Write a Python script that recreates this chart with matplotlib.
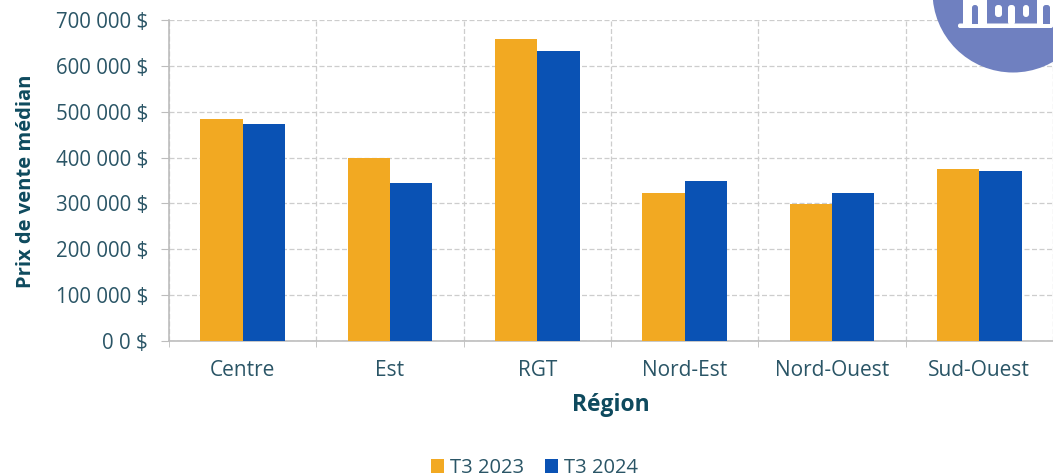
import matplotlib
matplotlib.use('Agg')
import matplotlib.pyplot as plt
from matplotlib.patches import Circle, Rectangle, FancyBboxPatch
import numpy as np

regions = ['Centre', 'Est', 'RGT', 'Nord-Est', 'Nord-Ouest', 'Sud-Ouest']
t3_2023 = [485000, 400000, 659000, 322000, 299000, 375000]
t3_2024 = [474000, 345000, 632000, 350000, 322000, 371000]
series_names = ['T3 2023', 'T3 2024']
y_ticks = [0, 100000, 200000, 300000, 400000, 500000, 600000, 700000]
y_labels = ['0 0 $', '100 000 $', '200 000 $', '300 000 $', '400 000 $', '500 000 $', '600 000 $', '700 000 $']

plt.rcParams['font.family'] = ['Open Sans', 'DejaVu Sans']
W, H = 1053, 476
fig = plt.figure(figsize=(W/100, H/100), dpi=100, facecolor='white')
ax = fig.add_axes([169/W, 1-341/H, (1053-169)/W, (341-20)/H])

x = np.arange(len(regions))
bw = 42.4/147.3
orange, blue = '#F2A922', '#0A52B4'
ax.bar(x-bw/2, t3_2023, bw, color=orange, zorder=3, label=series_names[0])
ax.bar(x+bw/2, t3_2024, bw, color=blue, zorder=3, label=series_names[1])
ax.set_xlim(-0.5, 5.5)
ax.set_ylim(0, 700000)
ax.set_yticks(y_ticks)
ax.set_yticklabels(y_labels)
ax.set_xticks(x)
ax.set_xticklabels(regions)
ax.set_xticks(np.arange(-0.5, 6), minor=True)

grid = '#CDCDCD'
ax.grid(True, axis='y', color=grid, lw=0.9, ls=(0, (4, 2)), zorder=0)
ax.grid(True, axis='x', which='minor', color=grid, lw=0.9, ls=(0, (4, 2)), zorder=0)
for s in ['top', 'right']:
    ax.spines[s].set_visible(False)
for s in ['left', 'bottom']:
    ax.spines[s].set_color('#BDBDBD')
    ax.spines[s].set_linewidth(1.2)
ax.tick_params(axis='y', length=6, color='#BDBDBD', labelsize=14.8, labelcolor='#2A5566', pad=9)
ax.tick_params(axis='x', which='major', length=0, labelsize=15, labelcolor='#2A5566', pad=14)
ax.tick_params(axis='x', which='minor', length=4, color='#BDBDBD')

fig.text(611/W, 1-405/H, 'Région', ha='center', va='center', fontsize=16.5, fontweight='bold', color='#0E4A5E')
fig.text(26/W, 1-181/H, 'Prix de vente médian', rotation=90, ha='center', va='center', fontsize=14.5, fontweight='bold', color='#0E4A5E')

h, l = ax.get_legend_handles_labels()
fig.legend(h, l, loc='center', bbox_to_anchor=(534.5/W, 1-468/H), ncol=2, frameon=False, fontsize=14.5,
           labelcolor='#2A5566', handlelength=0.64, handleheight=0.64, handletextpad=0.3, columnspacing=1.0,
           borderpad=0, borderaxespad=0)

# Decorative icon in pixel coordinates
circ = '#6F80C0'
ov = fig.add_axes([0, 0, 1, 1], zorder=10)
ov.set_xlim(0, W); ov.set_ylim(H, 0); ov.axis('off'); ov.patch.set_alpha(0)
ov.add_patch(Circle((1013, -8), 80.5, color=circ, lw=0))
ov.add_patch(FancyBboxPatch((958, 23.5), 95, 4.5, boxstyle='round,pad=0,rounding_size=2', color='white', lw=0))
for xa, wa in [(963, 24), (1037, 16)]:
    ov.add_patch(Rectangle((xa, 0), wa, 25, color='white', lw=0))
for xa, wa in [(972, 6), (1043, 7)]:
    ov.add_patch(FancyBboxPatch((xa, 5), wa, 19, boxstyle='round,pad=0,rounding_size=2.8', color=circ, lw=0))
    ov.add_patch(Rectangle((xa, 15), wa, 9, color=circ, lw=0))
for xa, ya, wa, ha in [(995, 5, 7, 12), (1023, 5, 6, 12), (1008, 5, 7, 20)]:
    ov.add_patch(FancyBboxPatch((xa, ya), wa, ha, boxstyle='round,pad=0,rounding_size=3', color='white', lw=0))
fig.savefig('out.png', dpi=100)
